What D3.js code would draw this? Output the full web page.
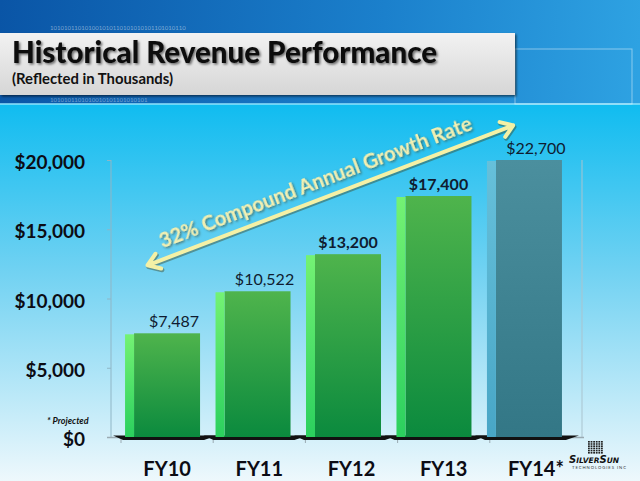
<!DOCTYPE html>
<html>
<head>
<meta charset="utf-8">
<script src="https://cdn.jsdelivr.net/npm/d3@7"></script>
<style>
  body { margin: 0; overflow: hidden; }
  svg { display: block; font-family: Lato, "Open Sans", sans-serif; }
</style>
</head>
<body>
<div id="chart"></div>
<script>
// chart values
var categories = ["FY10", "FY11", "FY12", "FY13", "FY14*"];
var revenue = [7487, 10522, 13200, 17400, 22700];
var projected = [false, false, false, false, true];
var yTicks = [0, 5000, 10000, 15000, 20000];
var growthLabel = "32% Compound Annual Growth Rate";
// arrow goes from FY10 to FY14 (band fraction, value)
var arrowFrom = ["FY10", 0.3, 12400];
var arrowTo = ["FY14*", 0.35, 22500];

var boldLabels = ["FY12", "FY13"];

var W = 640, H = 481;
var svg = d3.select("#chart").append("svg")
    .attr("width", W)
    .attr("height", H);

var defs = svg.append("defs");

function vGrad(id, stops, x1, y1, x2, y2, units) {
  var g = defs.append("linearGradient").attr("id", id)
      .attr("x1", x1).attr("y1", y1).attr("x2", x2).attr("y2", y2);
  if (units) g.attr("gradientUnits", units);
  stops.forEach(function(s) {
    g.append("stop").attr("offset", s[0]).attr("stop-color", s[1]);
  });
}
vGrad("bg", [[0, "#10bcf0"], [0.45, "#72d2f2"], [1, "#eef8fc"]], 0, 104, 0, 481, "userSpaceOnUse");
vGrad("head", [[0, "#0a55a6"], [0.6, "#1b80cc"], [1, "#2ea2e2"]], 0, 0, 640, 40, "userSpaceOnUse");
vGrad("box", [[0, "#f2f2f2"], [1, "#d6d6d6"]], 0, 0, 0, 1);
vGrad("greenFront", [[0, "#4fb44c"], [1, "#0b8a3e"]], 0, 0, 0, 1);
vGrad("greenSide", [[0, "#74f274"], [1, "#2bd05e"]], 0, 0, 0, 1);
vGrad("tealFront", [[0, "#4b8f9e"], [1, "#337786"]], 0, 0, 0, 1);
vGrad("tealSide", [[0, "#66c0da"], [1, "#48a6c6"]], 0, 0, 0, 1);

var f1 = defs.append("filter").attr("id", "shadow").attr("x", "-5%").attr("y", "-20%").attr("width", "110%").attr("height", "150%");
f1.append("feDropShadow").attr("dx", 1.5).attr("dy", 1.5).attr("stdDeviation", 1)
    .attr("flood-color", "#000").attr("flood-opacity", 0.55);
var f2 = defs.append("filter").attr("id", "softShadow").attr("x", "-5%").attr("y", "-20%").attr("width", "110%").attr("height", "150%");
f2.append("feDropShadow").attr("dx", 1).attr("dy", 1.5).attr("stdDeviation", 0.8)
    .attr("flood-color", "#3a4a30").attr("flood-opacity", 0.7);

// background
svg.append("rect").attr("width", W).attr("height", H).attr("fill", "url(#bg)");
svg.append("rect").attr("width", W).attr("height", 104).attr("fill", "url(#head)");
svg.append("line").attr("x1", 0).attr("x2", W).attr("y1", 104).attr("y2", 104)
    .attr("stroke", "#8fe2fb").attr("stroke-width", 1.5);
svg.append("rect").attr("x", 515).attr("y", 49).attr("width", 117).attr("height", 55)
    .attr("fill", "none").attr("stroke", "rgba(255,255,255,0.45)").attr("stroke-width", 1);
svg.append("text").attr("x", 50).attr("y", 30).attr("font-size", 6)
    .attr("fill", "rgba(255,255,255,0.45)").text("101010110101001010110101010101101010110");
svg.append("text").attr("x", 50).attr("y", 102).attr("font-size", 6)
    .attr("fill", "rgba(255,255,255,0.4)").text("1010101101010010101101010101");

// title box
svg.append("rect").attr("x", 0).attr("y", 33).attr("width", 515).attr("height", 62)
    .attr("fill", "url(#box)").attr("filter", "url(#shadow)");
svg.append("text").attr("x", 12).attr("y", 63)
    .attr("font-size", 31).attr("font-weight", 900).attr("fill", "#111")
    .attr("textLength", 425).attr("lengthAdjust", "spacingAndGlyphs")
    .attr("filter", "url(#shadow)")
    .text("Historical Revenue Performance");
svg.append("text").attr("x", 12).attr("y", 84)
    .attr("font-size", 15).attr("font-weight", 700).attr("fill", "#111")
    .attr("textLength", 161).attr("lengthAdjust", "spacingAndGlyphs")
    .text("(Reflected in Thousands)");

// scales
var y = d3.scaleLinear().domain([0, 20000]).range([437, 160]).clamp(true);
var yFree = y.copy().clamp(false);
var x = d3.scaleBand().domain(categories).range([116, 571])
    .paddingInner(0.171).paddingOuter(0.1);
var floorX = d3.scaleBand().domain(categories).range([121, 582]);
var side = 9;

// walls
var g = svg.append("g");
g.append("line").attr("x1", 111).attr("x2", 111).attr("y1", y(20000)).attr("y2", y(0))
    .attr("stroke", "#8fb6c6").attr("stroke-width", 1);
g.append("line").attr("x1", 582).attr("x2", 582).attr("y1", y(20000)).attr("y2", y(0))
    .attr("stroke", "#a9c4cf").attr("stroke-width", 1);

// y axis
var yAxis = g.append("g").attr("transform", "translate(111,0)")
    .call(d3.axisLeft(y).tickValues(yTicks).tickFormat(d3.format("$,")).tickSize(4).tickPadding(22));
yAxis.select(".domain").remove();
yAxis.selectAll(".tick line").attr("stroke", "#8fb6c6");
yAxis.selectAll(".tick text")
    .attr("font-family", "Lato, sans-serif")
    .attr("font-size", 19).attr("font-weight", 700).attr("fill", "#0c0c14")
    .attr("dy", "0.45em");

// floor
g.append("line").attr("x1", 107).attr("x2", 584).attr("y1", 437.5).attr("y2", 437.5)
    .attr("stroke", "#9aaab2").attr("stroke-width", 1.5);
g.selectAll(".floortick")
    .data(categories.map(function(c) { return floorX(c); }))
    .enter().append("line")
    .attr("x1", function(d) { return d; }).attr("x2", function(d) { return d; })
    .attr("y1", 438).attr("y2", 443)
    .attr("stroke", "#9aaab2").attr("stroke-width", 1);

// base shadows
g.selectAll(".shade")
    .data(categories)
    .enter().append("polygon")
    .attr("points", function(d) {
      var x0 = x(d), x1 = x(d) + x.bandwidth();
      return [[x0 - 12, 435.5], [x1 + 17, 435.5], [x1 + 4, 440], [x0 - 2, 440]].join(" ");
    })
    .attr("fill", "#111");

// bars
var bars = g.selectAll(".bar")
    .data(categories)
    .enter().append("g");

bars.append("rect")
    .attr("x", function(d) { return x(d) + side; })
    .attr("y", function(d, i) { return y(revenue[i]); })
    .attr("width", x.bandwidth() - side)
    .attr("height", function(d, i) { return y(0) - y(revenue[i]); })
    .attr("fill", function(d, i) { return projected[i] ? "url(#tealFront)" : "url(#greenFront)"; });

bars.append("rect")
    .attr("x", function(d) { return x(d); })
    .attr("y", function(d, i) { return y(revenue[i]) + 1; })
    .attr("width", side)
    .attr("height", function(d, i) { return y(0) - y(revenue[i]) - 1; })
    .attr("fill", function(d, i) { return projected[i] ? "url(#tealSide)" : "url(#greenSide)"; });

// value labels
g.selectAll(".val")
    .data(categories)
    .enter().append("text")
    .attr("x", function(d) { return x(d) + (boldLabels.indexOf(d) >= 0 ? 42 : 49); })
    .attr("y", function(d, i) { return y(revenue[i]) - 6; })
    .attr("text-anchor", "middle")
    .attr("font-size", 16)
    .attr("font-weight", function(d) { return boldLabels.indexOf(d) >= 0 ? 700 : 400; })
    .attr("fill", "#0f1c30")
    .text(function(d, i) { return d3.format("$,")(revenue[i]); });

// x axis labels
var xAxis = g.append("g").attr("transform", "translate(0,437)")
    .call(d3.axisBottom(floorX).tickSize(0).tickPadding(25));
xAxis.select(".domain").remove();
xAxis.selectAll(".tick text")
    .attr("font-family", "Lato, sans-serif")
    .attr("font-size", 20).attr("font-weight", 700).attr("fill", "#0c0c14");

// projected note
svg.append("text").attr("x", 47).attr("y", 424)
    .attr("font-size", 9).attr("font-style", "italic").attr("font-weight", 700)
    .attr("fill", "#111").text("* Projected");

// growth arrow
var ax0 = x(arrowFrom[0]) + arrowFrom[1] * x.bandwidth(), ay0 = yFree(arrowFrom[2]);
var ax1 = x(arrowTo[0]) + arrowTo[1] * x.bandwidth(), ay1 = yFree(arrowTo[2]);
var len = Math.hypot(ax1 - ax0, ay1 - ay0);
var ux = (ax1 - ax0) / len, uy = (ay1 - ay0) / len;
var angle = Math.atan2(uy, ux) * 180 / Math.PI;

function head(px, py, dx, dy) {
  var a = 0.6, L = 14;
  var c = Math.cos(a), s = Math.sin(a);
  var p1 = [px + L * (dx * c - dy * s), py + L * (dx * s + dy * c)];
  var p2 = [px + L * (dx * c + dy * s), py + L * (-dx * s + dy * c)];
  return "M" + p1 + "L" + px + "," + py + "L" + p2;
}
var arrowPath = "M" + ax0 + "," + ay0 + "L" + ax1 + "," + ay1 +
    head(ax0, ay0, ux, uy) + head(ax1, ay1, -ux, -uy);

var arrow = svg.append("g");
arrow.append("path").attr("d", arrowPath)
    .attr("transform", "translate(1,1.5)")
    .attr("fill", "none").attr("stroke", "rgba(60,70,40,0.45)")
    .attr("stroke-width", 4.5).attr("stroke-linecap", "round").attr("stroke-linejoin", "round");
arrow.append("path").attr("d", arrowPath)
    .attr("fill", "none").attr("stroke", "#f4f1a6")
    .attr("stroke-width", 4).attr("stroke-linecap", "round").attr("stroke-linejoin", "round");

var nx = uy, ny = -ux; // normal pointing up-left
var tx = ax0 + 20 * ux + 10.5 * nx, ty = ay0 + 20 * uy + 10.5 * ny;
arrow.append("text")
    .attr("transform", "translate(" + tx + "," + ty + ") rotate(" + angle + ")")
    .attr("font-size", 21).attr("font-weight", 700)
    .attr("fill", "#f3f0b2")
    .attr("textLength", 333).attr("lengthAdjust", "spacingAndGlyphs")
    .attr("filter", "url(#softShadow)")
    .text(growthLabel);

// logo
var logo = svg.append("g").attr("transform", "translate(588,441)");
logo.selectAll("rect")
    .data(d3.range(36))
    .enter().append("rect")
    .attr("x", function(d) { return (d % 6) * 2.6; })
    .attr("y", function(d) { return Math.floor(d / 6) * 2.2; })
    .attr("width", 1.8).attr("height", 1.6)
    .attr("fill", "#222");
var lt = svg.append("text").attr("x", 569).attr("y", 463)
    .attr("font-family", "'DejaVu Sans', sans-serif")
    .attr("font-style", "italic").attr("font-weight", 700).attr("fill", "#111");
lt.append("tspan").attr("font-size", 10).text("S");
lt.append("tspan").attr("font-size", 7.5).text("ILVER");
lt.append("tspan").attr("font-size", 10).text("S");
lt.append("tspan").attr("font-size", 7.5).text("UN");
svg.append("text").attr("x", 572).attr("y", 469)
    .attr("font-size", 4.2).attr("fill", "#333")
    .attr("textLength", 54).attr("lengthAdjust", "spacing")
    .text("TECHNOLOGIES INC");
</script>
</body>
</html>
